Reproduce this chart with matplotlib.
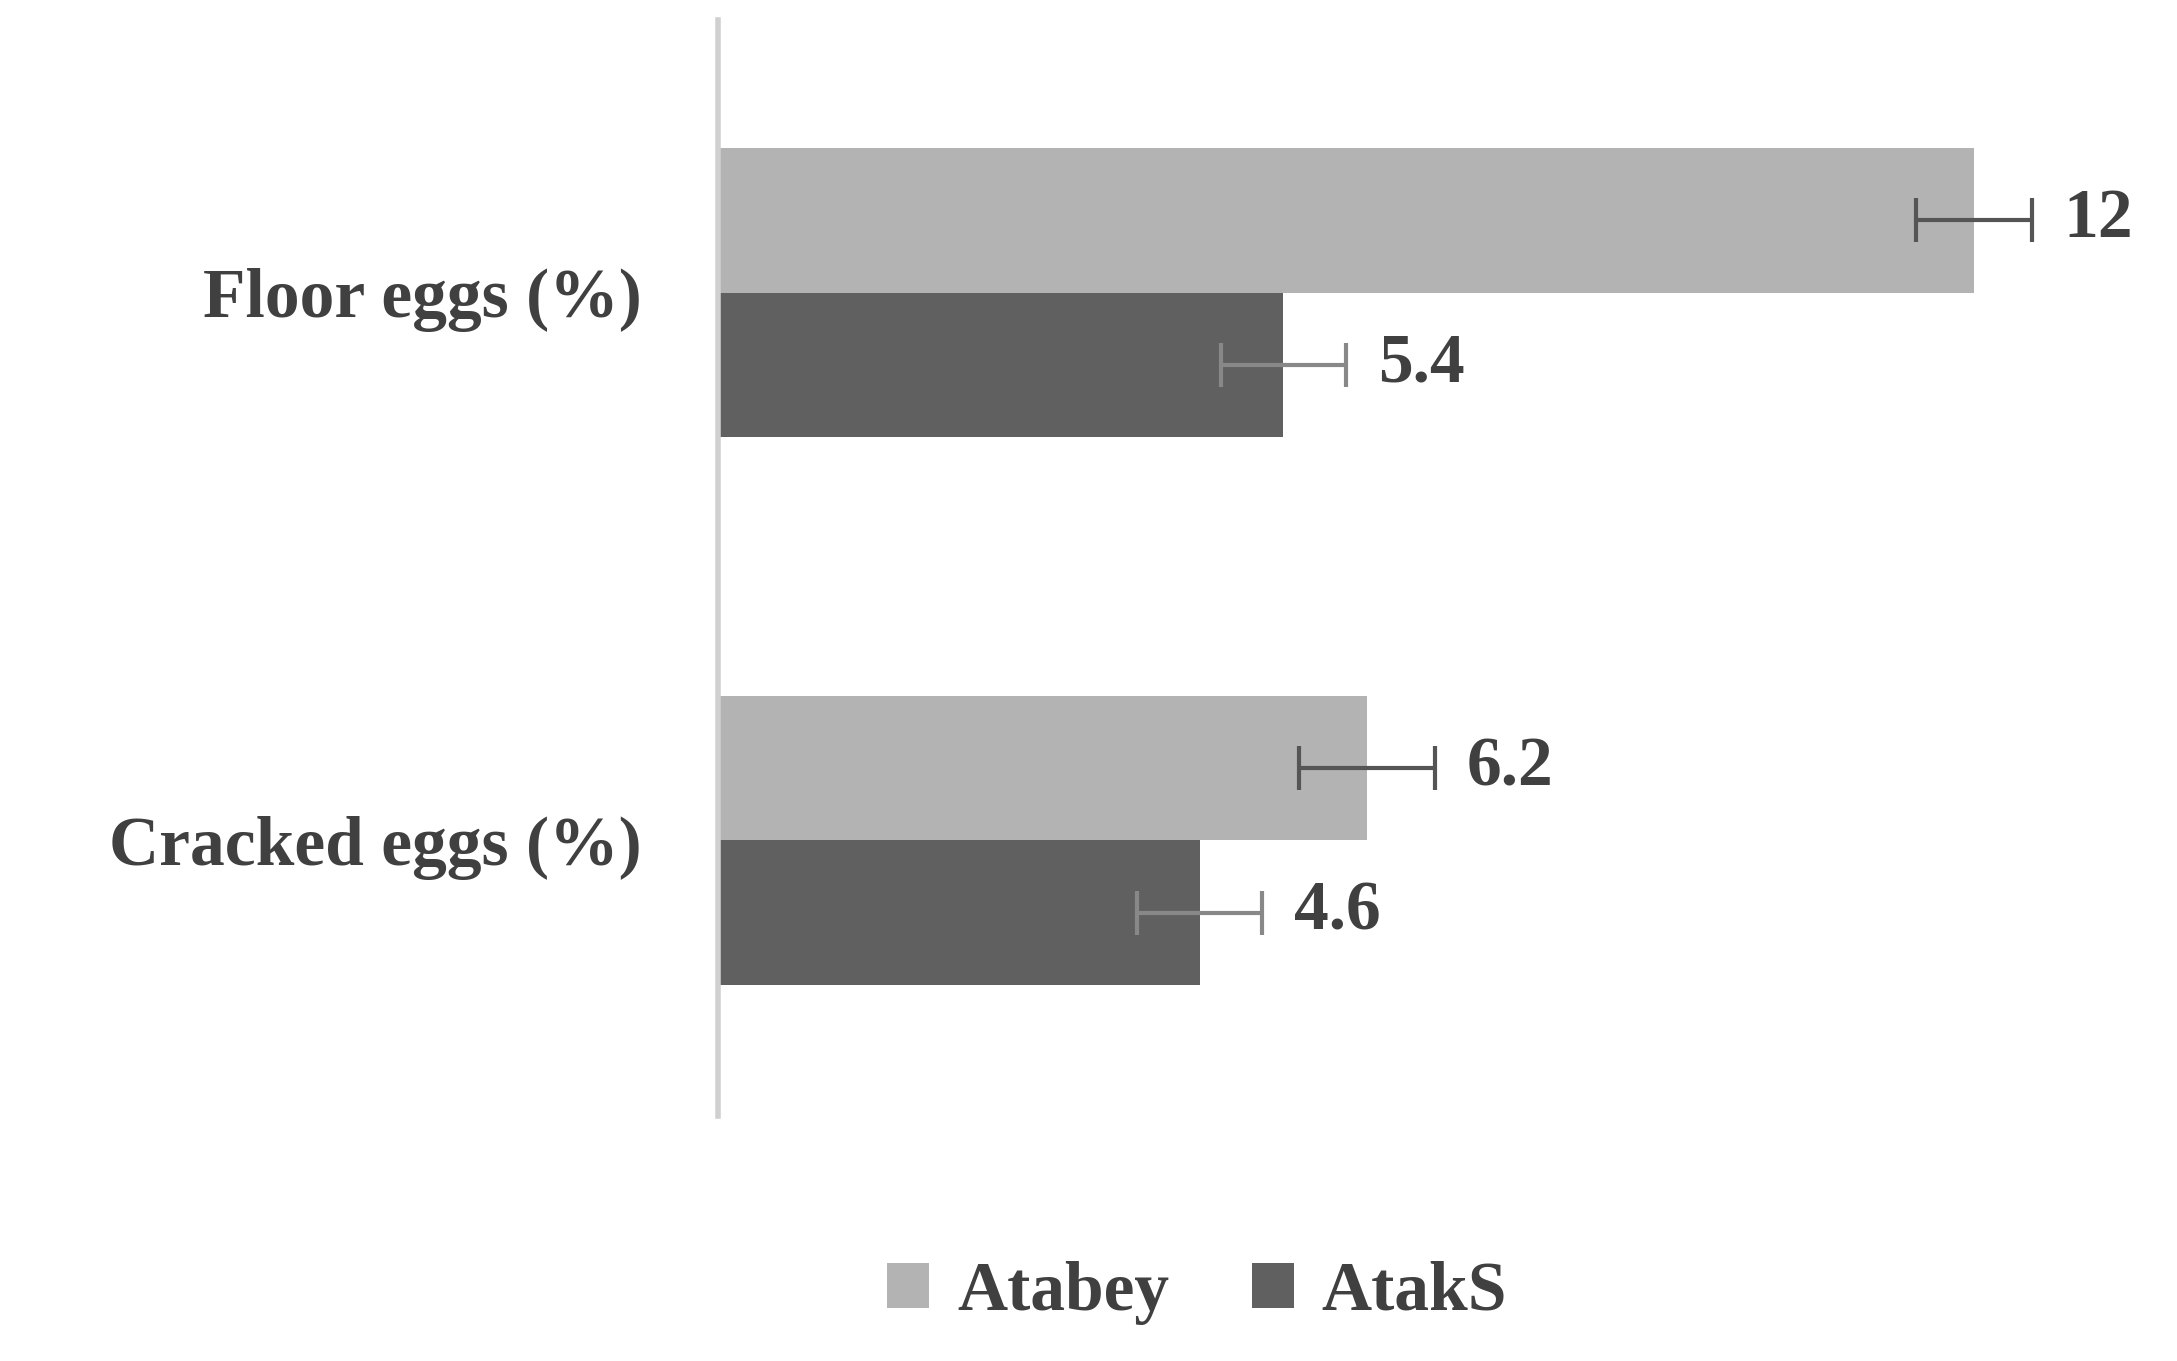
import matplotlib.pyplot as plt
import numpy as np

categories = ['Cracked eggs (%)', 'Floor eggs (%)']
atabey = [6.2, 12.0]
ataks = [4.6, 5.4]
atabey_err = [0.65, 0.55]
ataks_err = [0.6, 0.6]

plt.rcParams['font.family'] = ['Liberation Serif', 'DejaVu Serif']
plt.rcParams['font.weight'] = 'bold'
txt = '#404040'

fig = plt.figure(figsize=(21.77, 13.61), dpi=100)
ax = fig.add_axes([0.33, 0.18, 0.62, 0.805])

y = np.arange(len(categories))
h = 0.264
ax.barh(y + h / 2, atabey, h, color='#b3b3b3', label='Atabey')
ax.barh(y - h / 2, ataks, h, color='#606060', label='AtakS')
ax.errorbar(atabey, y + h / 2, xerr=atabey_err, fmt='none', ecolor='#555555',
            elinewidth=3, capsize=16, capthick=3)
ax.errorbar(ataks, y - h / 2, xerr=ataks_err, fmt='none', ecolor='#888888',
            elinewidth=3, capsize=16, capthick=3)

for v, e, yy in zip(atabey, atabey_err, y + h / 2):
    ax.text(v + e + 0.3, yy, f'{v:g}', va='center', ha='left', fontsize=50,
            color=txt, fontweight='bold')
for v, e, yy in zip(ataks, ataks_err, y - h / 2):
    ax.text(v + e + 0.3, yy, f'{v:g}', va='center', ha='left', fontsize=50,
            color=txt, fontweight='bold')

ax.set_xlim(0, 12.9)
ax.set_ylim(-0.503, 1.497)
ax.set_yticks(y)
ax.set_yticklabels(categories, fontsize=50, color=txt, fontweight='bold')
ax.tick_params(axis='y', length=0, pad=55)
ax.set_xticks([])
for s in ['top', 'right', 'bottom']:
    ax.spines[s].set_visible(False)
ax.spines['left'].set_color('#d0d0d0')
ax.spines['left'].set_linewidth(4)

leg = fig.legend(loc='center', bbox_to_anchor=(0.55, 0.05), ncol=2, frameon=False,
                 fontsize=50, handlelength=0.6, handleheight=0.6, columnspacing=1.2,
                 handletextpad=0.4)
for t in leg.get_texts():
    t.set_color(txt)

fig.savefig('out.png', dpi=100)
